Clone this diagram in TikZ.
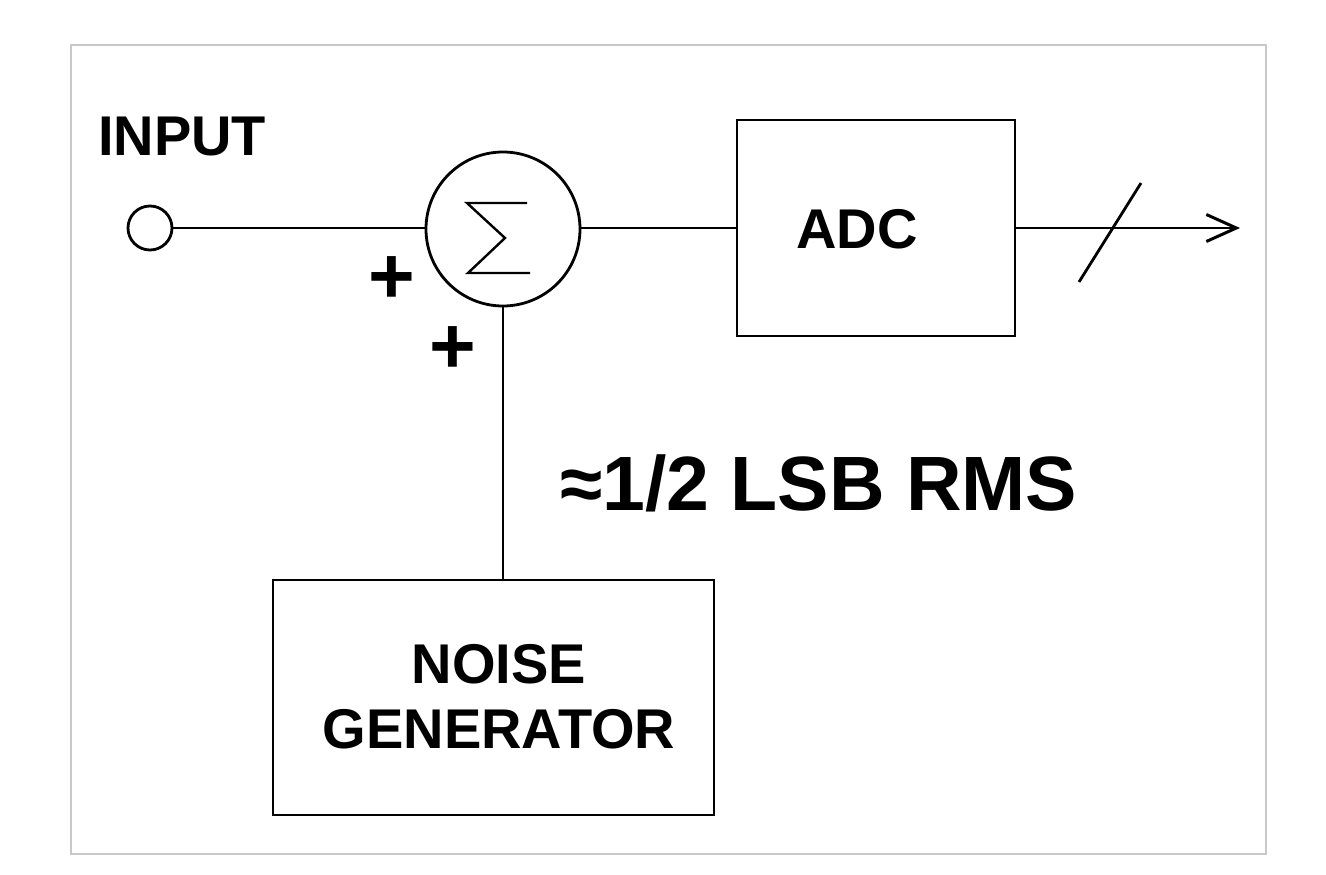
\documentclass[tikz,border=0pt]{standalone}
\usepackage{fontspec}
\setmainfont{Liberation Sans}
\usetikzlibrary{arrows.meta}
\begin{document}
\begin{tikzpicture}[x=1pt,y=-1pt,
  wire/.style={line width=2.8pt,black},
  blockbox/.style={draw,line width=2.8pt,rectangle,inner sep=0pt},
  lbl/.style={font=\fontsize{56}{65}\selectfont\bfseries,inner sep=0pt}]
\useasboundingbox (0,0) rectangle (1326,875);
\draw[line width=1.5pt,color={rgb,255:red,200;green,200;blue,200}] (71,45) rectangle (1266,854);
% nodes
\node[draw,circle,line width=2.8pt,minimum size=44pt,inner sep=0pt] (in) at (150,228) {};
\node[draw,circle,line width=2.8pt,minimum size=154pt,inner sep=0pt] (sum) at (503,229) {};
\node[blockbox,minimum width=278pt,minimum height=216pt] (adc) at (876,228) {};
\node[blockbox,minimum width=441pt,minimum height=235pt] (noise) at (493.5,697.5) {};
\coordinate (out) at (1240,228);
% sigma
\draw[line width=2.4pt,line join=miter] (527,203) -- (467,203) -- (505,238) -- (468,273) -- (530,273);
% texts
\node[lbl,anchor=base west] (tin) at (98,155) {INPUT};
\node[lbl,anchor=base] (tadc) at (857,248) {ADC};
\node[lbl,align=center,anchor=base] (tnoise) at (499,748) {NOISE\\GENERATOR};
\node[font=\fontsize{77}{80}\selectfont\bfseries,inner sep=0pt,anchor=base west] (tlsb) at (560,510) {≈1/2 LSB RMS};
\node[font=\fontsize{80}{80}\selectfont\bfseries,inner sep=0pt] (p1) at (392,280) {+};
\node[font=\fontsize{80}{80}\selectfont\bfseries,inner sep=0pt] (p2) at (453,350) {+};
% connectors
\draw[wire] (in.east) -- (in.east -| sum.west);
\draw[wire] (sum.east |- adc.west) -- (adc.west);
\draw[wire] (sum.south) -- (sum.south |- noise.north);
\draw[wire,-{Straight Barb[length=30pt,width=27pt,line width=3pt]}] (adc.east) -- (out);
\coordinate (s1) at (1079,282);
\coordinate (s2) at (1141,183);
\draw[wire] (s1) -- (s2);
\end{tikzpicture}
\end{document}
